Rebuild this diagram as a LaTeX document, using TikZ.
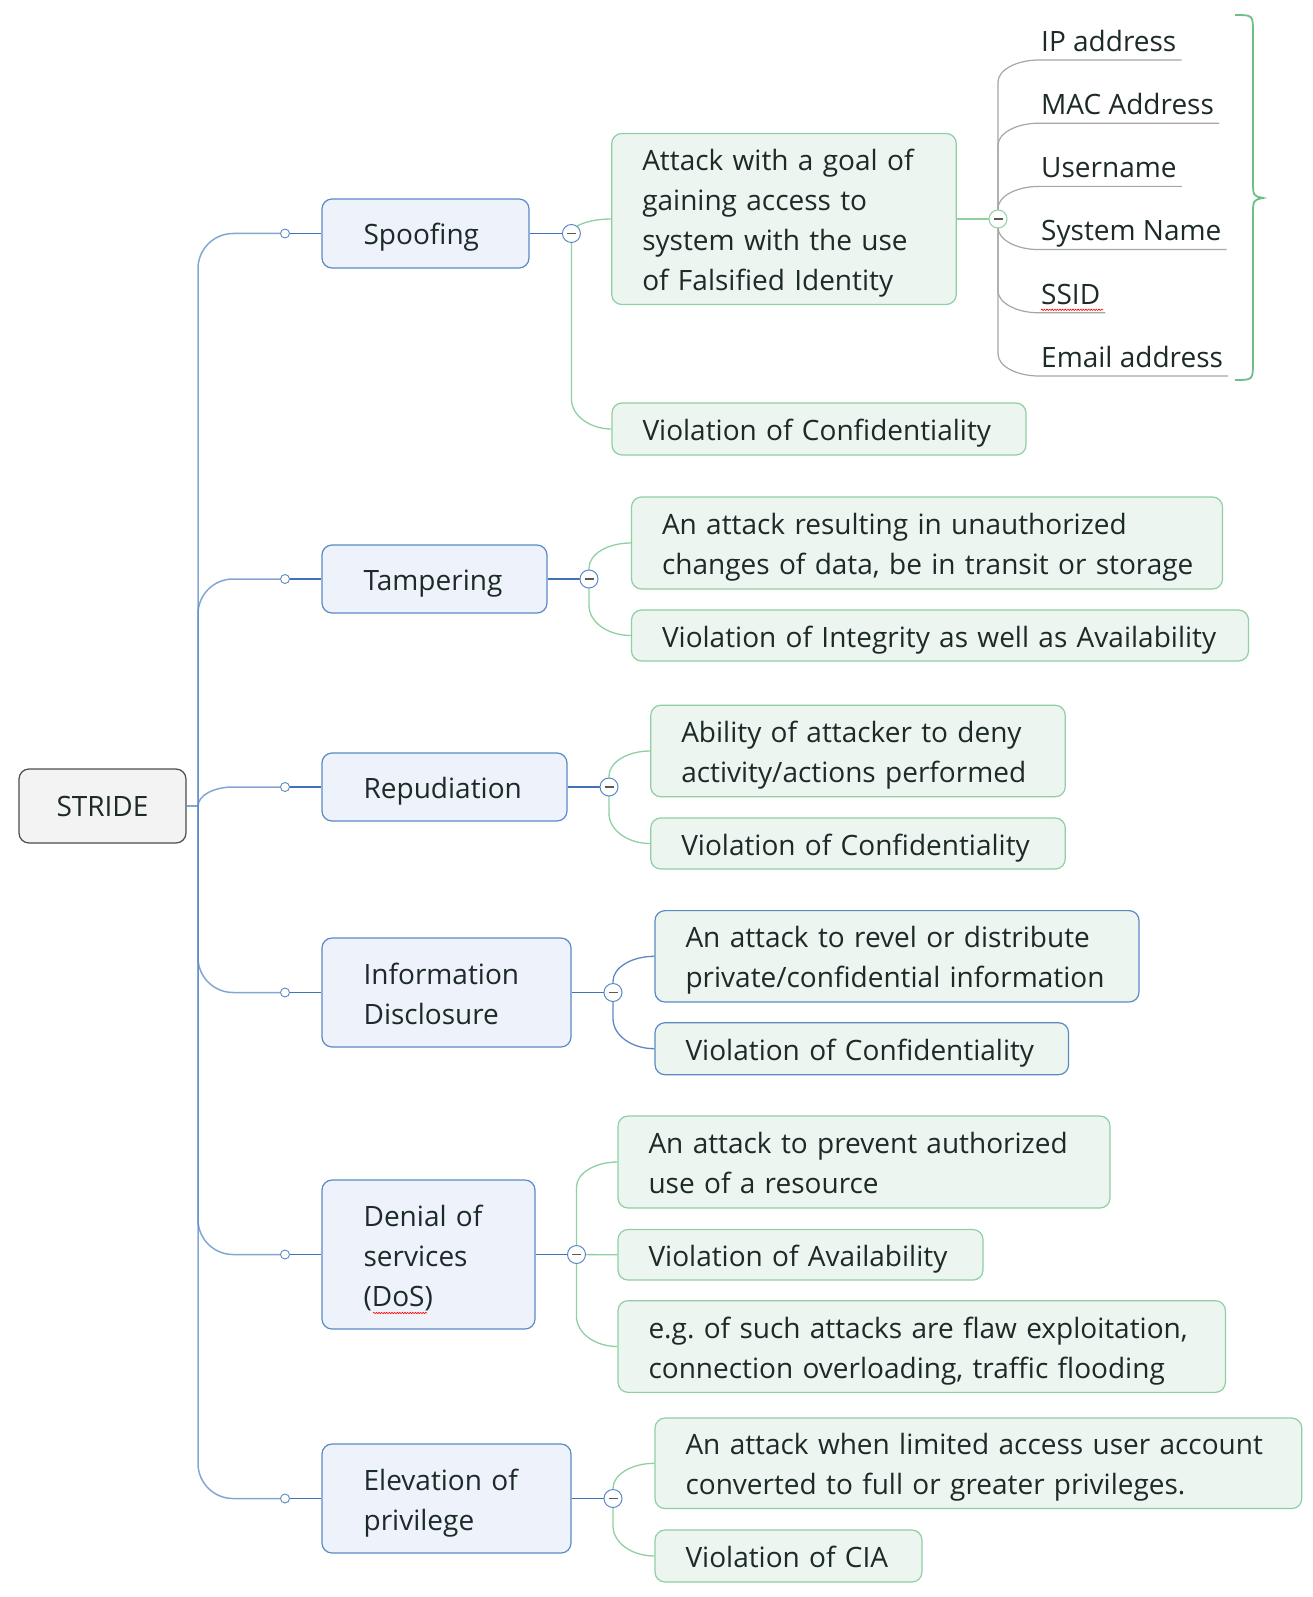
\documentclass[tikz,border=0pt]{standalone}
\usepackage{fontspec}
\setmainfont{Open Sans}
\usetikzlibrary{decorations.pathmorphing}
\definecolor{txt}{HTML}{1C2A28}
\definecolor{blueb}{HTML}{5A8AC6}
\definecolor{bluef}{HTML}{EEF3FB}
\definecolor{bluel}{HTML}{3F72B6}
\definecolor{greenb}{HTML}{8FCFA2}
\definecolor{greenf}{HTML}{ECF5EF}
\definecolor{rootb}{HTML}{4D4D4D}
\definecolor{rootf}{HTML}{F3F3F3}
\definecolor{grayl}{HTML}{A6A6A6}
\definecolor{bracec}{HTML}{6CBF86}
\newcommand\fs{\fontsize{28}{40}\selectfont\frenchspacing}
\newcommand\ml[1]{\mbox{#1}}
\pgfdeclarelayer{bg}
\pgfsetlayers{bg,main}
\begin{document}
\begin{tikzpicture}[x=1pt,y=-1pt,
  base/.style={rounded corners=10pt, line width=1.2pt, font=\fs, text=txt, inner ysep=0pt},
  root/.style={base, draw=rootb, fill=rootf, minimum width=167pt, minimum height=74pt, align=center},
  boxed/.style={base, align=left,
    execute at begin node={\rule{0pt}{30pt}},
    execute at end node={\rule[-7pt]{0pt}{7pt}}},
  topic/.style={boxed, draw=blueb, fill=bluef, inner xsep=41.6pt},
  sub/.style={boxed, draw=greenb, fill=greenf, inner xsep=30.5pt},
  subb/.style={sub, draw=blueb},
  dot/.style={circle, draw=blueb, fill=white, line width=0.9pt, minimum size=9pt, inner sep=0pt},
  coll/.style={circle, draw=blueb, fill=white, line width=1pt, minimum size=18pt, inner sep=0pt,
    path picture={\draw[line width=1.4pt, black!65] ([xshift=-4.5pt]path picture bounding box.center) -- ([xshift=4.5pt]path picture bounding box.center);}},
  collg/.style={coll, draw=greenb},
  idn/.style={anchor=south west, inner xsep=2pt, inner ysep=8.5pt, text depth=0pt, font=\fs, text=txt},
  trunk/.style={draw=blueb, draw opacity=0.75, line width=1.5pt},
  tl/.style={draw=bluel, line width=1.3pt},
  gl/.style={draw=greenb, line width=1.3pt},
  bl/.style={draw=blueb, line width=1.3pt},
  il/.style={draw=grayl, line width=1.2pt},
  spell/.style={draw=red, line width=0.6pt, decorate, decoration={snake, amplitude=0.7pt, segment length=2.6pt}}
]
\useasboundingbox (0,0) rectangle (1313,1597);

% root
\node[root] (stride) at (102.5,806) {STRIDE};

% topics
\node[topic, text width=123.8pt, minimum height=69pt] (spoof) at (425.5,233.5) {\ml{Spoofing}};
\node[topic, text width=141.8pt, minimum height=68pt] (tamper) at (434.5,579) {\ml{Tampering}};
\node[topic, text width=161.8pt, minimum height=68pt] (repud) at (444.5,787) {\ml{Repudiation}};
\node[topic, text width=165.8pt, minimum height=109pt] (info) at (446.5,992.5) {\ml{Information}\\\ml{Disclosure}};
\node[topic, text width=129.8pt, minimum height=149pt] (dos) at (428.5,1254.5) {\ml{Denial of}\\\ml{services}\\\ml{(DoS)}};
\node[topic, text width=165.8pt, minimum height=109pt] (elev) at (446.5,1498.5) {\ml{Elevation of}\\\ml{privilege}};

% small circles
\node[dot] (p1) at (285,233.5) {};
\node[dot] (p2) at (285,579) {};
\node[dot] (p3) at (285,787) {};
\node[dot] (p4) at (285,992.5) {};
\node[dot] (p5) at (285,1254.5) {};
\node[dot] (p6) at (285,1498.5) {};

% collapse circles
\node[coll] (c1) at (571.4,233.5) {};
\node[coll] (c2) at (589,579) {};
\node[coll] (c3) at (609,787) {};
\node[coll] (c4) at (613,992.5) {};
\node[coll] (c5) at (576.5,1254.5) {};
\node[coll] (c6) at (613,1498.5) {};
\node[collg] (c7) at (998,219) {};

% subtopics
\node[sub, text width=283.5pt, minimum height=171pt] (s1) at (784,219) {\ml{Attack with a goal of}\\\ml{gaining access to}\\\ml{system with the use}\\\ml{of Falsified Identity}};
\node[sub, text width=353pt, minimum height=52pt] (s2) at (819,429) {\ml{Violation of Confidentiality}};
\node[sub, text width=530pt, minimum height=92pt] (t1) at (927,543) {\ml{An attack resulting in unauthorized}\\\ml{changes of data, be in transit or storage}};
\node[sub, text width=556pt, minimum height=51pt] (t2) at (940,635.5) {\ml{Violation of Integrity as well as Availability}};
\node[sub, text width=353.5pt, minimum height=91.5pt] (r1) at (858,751) {\ml{Ability of attacker to deny}\\\ml{activity/actions performed}};
\node[sub, text width=353.5pt, minimum height=51pt] (r2) at (858,843.5) {\ml{Violation of Confidentiality}};
\node[subb, text width=423pt, minimum height=91.4pt] (i1) at (897,956.3) {\ml{An attack to revel or distribute}\\\ml{private/confidential information}};
\node[subb, text width=352.5pt, minimum height=52pt] (i2) at (861.8,1048.7) {\ml{Violation of Confidentiality}};
\node[sub, text width=431pt, minimum height=92pt] (d1) at (864,1162) {\ml{An attack to prevent authorized}\\\ml{use of a resource}};
\node[sub, text width=304pt, minimum height=50.5pt] (d2) at (800.5,1254.8) {\ml{Violation of Availability}};
\node[sub, text width=546.4pt, minimum height=91.7pt] (d3) at (921.7,1346.5) {\ml{e.g. of such attacks are flaw exploitation,}\\\ml{connection overloading, traffic flooding}};
\node[sub, text width=585.8pt, minimum height=90.5pt] (e1) at (978.4,1463.3) {\ml{An attack when limited access user account}\\\ml{converted to full or greater privileges.}};
\node[sub, text width=206pt, minimum height=52pt] (e2) at (788.5,1556) {\ml{Violation of CIA}};

% identifiers
\node[idn] (ip) at (1039,60) {IP address};
\node[idn] (mac) at (1039,123.2) {MAC Address};
\node[idn] (user) at (1039,186.4) {Username};
\node[idn] (sys) at (1039,249.6) {System Name};
\node[idn] (ssid) at (1039,312.8) {SSID};
\node[idn] (email) at (1039,376) {Email address};

\begin{pgfonlayer}{bg}
% trunk
\draw[trunk] (stride.east) -- (198,806);
\draw[trunk] (198,806) -- (198,268.5) .. controls (198,249.25) and (213.75,233.5) .. (233,233.5) -- (p1);
\draw[trunk] (198,806) -- (198,614) .. controls (198,594.75) and (213.75,579) .. (233,579) -- (p2);
\draw[trunk] (198,806) .. controls (198,795.5) and (213.75,787) .. (233,787) -- (p3);
\draw[trunk] (198,806) -- (198,957.5) .. controls (198,976.75) and (213.75,992.5) .. (233,992.5) -- (p4);
\draw[trunk] (198,806) -- (198,1219.5) .. controls (198,1238.75) and (213.75,1254.5) .. (233,1254.5) -- (p5);
\draw[trunk] (198,806) -- (198,1463.5) .. controls (198,1482.75) and (213.75,1498.5) .. (233,1498.5) -- (p6);
% dots to topics, topics to collapse circles
\draw[tl] (p1) -- (spoof.west);  \draw[tl] (spoof.east) -- (c1);
\draw[tl] (p2) -- (tamper.west); \draw[tl] (tamper.east) -- (c2);
\draw[tl] (p3) -- (repud.west);  \draw[tl] (repud.east) -- (c3);
\draw[tl] (p4) -- (info.west);   \draw[tl] (info.east) -- (c4);
\draw[tl] (p5) -- (dos.west);    \draw[tl] (dos.east) -- (c5);
\draw[tl] (p6) -- (elev.west);   \draw[tl] (elev.east) -- (c6);
% subtopic connectors
\draw[gl] (c1.center) .. controls (571.4,225.5) and (589.9,219) .. (s1.west);
\draw[gl] (c1.center) -- (571.4,399) .. controls (571.4,415.5) and (589.9,429) .. (s2.west);
\draw[gl] (c2.center) -- (589,568) .. controls (589,554.25) and (607.45,543) .. (t1.west);
\draw[gl] (c2.center) -- (589,605.5) .. controls (589,622) and (607.45,635.5) .. (t2.west);
\draw[gl] (c3.center) -- (609,776) .. controls (609,762.25) and (627.45,751) .. (r1.west);
\draw[gl] (c3.center) -- (609,813.5) .. controls (609,830) and (627.45,843.5) .. (r2.west);
\draw[bl] (c4.center) -- (613,981.3) .. controls (613,967.55) and (631.45,956.3) .. (i1.west);
\draw[bl] (c4.center) -- (613,1018.7) .. controls (613,1035.2) and (631.45,1048.7) .. (i2.west);
\draw[gl] (c5.center) -- (576.5,1187) .. controls (576.5,1173.25) and (594.95,1162) .. (d1.west);
\draw[gl] (c5.center) -- (d2.west);
\draw[gl] (c5.center) -- (576.5,1316.5) .. controls (576.5,1333) and (594.95,1346.5) .. (d3.west);
\draw[gl] (c6.center) -- (613,1488.3) .. controls (613,1474.55) and (631.45,1463.3) .. (e1.west);
\draw[gl] (c6.center) -- (613,1526) .. controls (613,1542.5) and (631.45,1556) .. (e2.west);
% identifier connectors
\draw[gl] (s1.east) -- (c7);
\draw[il] (c7.center) -- (998,82) .. controls (998,69.9) and (1016.45,60) .. (ip.south west) -- ([xshift=3pt]ip.south east);
\draw[il] (c7.center) -- (998,145.2) .. controls (998,133.1) and (1016.45,123.2) .. (mac.south west) -- ([xshift=3pt]mac.south east);
\draw[il] (c7.center) -- (998,208.4) .. controls (998,196.3) and (1016.45,186.4) .. (user.south west) -- ([xshift=3pt]user.south east);
\draw[il] (c7.center) -- (998,227.6) .. controls (998,239.7) and (1016.45,249.6) .. (sys.south west) -- ([xshift=3pt]sys.south east);
\draw[il] (c7.center) -- (998,290.8) .. controls (998,302.9) and (1016.45,312.8) .. (ssid.south west) -- ([xshift=3pt]ssid.south east);
\draw[il] (c7.center) -- (998,354) .. controls (998,366.1) and (1016.45,376) .. (email.south west) -- ([xshift=3pt]email.south east);
\end{pgfonlayer}

% spelling marks
\draw[spell] ([xshift=2pt,yshift=3pt]ssid.south west) -- ([xshift=1pt,yshift=3pt]ssid.south east);
\draw[spell] (373,1313) -- (427,1313);

% brace
\draw[draw=bracec, line width=1.8pt] (1235,15) .. controls (1253,15) .. (1253,33) -- (1253,180)
  .. controls (1253,196) .. (1263,198) .. controls (1253,200) .. (1253,216) -- (1253,362)
  .. controls (1253,380) .. (1235,380);
\end{tikzpicture}
\end{document}
